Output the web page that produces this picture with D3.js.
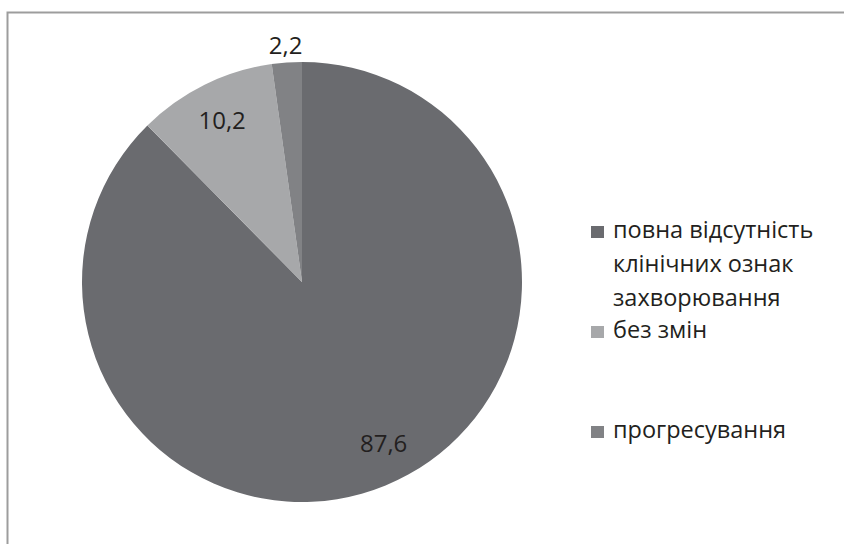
<!DOCTYPE html>
<html>
<head>
<meta charset="utf-8">
<script src="https://cdn.jsdelivr.net/npm/d3@7"></script>
<style>
  body { margin: 0; background: #fff; }
  svg text { font-family: "Open Sans", sans-serif; fill: #231f20; }
</style>
</head>
<body>
<div id="chart"></div>
<script>
// data
const categories = ["повна відсутність клінічних ознак захворювання", "без змін", "прогресування"];
const values = [87.6, 10.2, 2.2];
const valueLabels = ["87,6", "10,2", "2,2"];
const legendLines = [["повна відсутність", "клінічних ознак", "захворювання"], ["без змін"], ["прогресування"]];
const colors = ["#6a6b6f", "#a7a8aa", "#818285"];

const width = 844, height = 544;
const cx = 302, cy = 282, radius = 220;

const svg = d3.select("#chart").append("svg")
    .attr("width", width)
    .attr("height", height);

// chart area border (cut off on the right and bottom)
svg.append("rect")
    .attr("x", 7.5).attr("y", 12.5)
    .attr("width", 900).attr("height", 600)
    .attr("fill", "none")
    .attr("stroke", "#9d9d9d")
    .attr("stroke-width", 2);

const data = categories.map((c, i) => ({name: c, value: values[i], label: valueLabels[i], color: colors[i]}));

const pie = d3.pie().sort(null).value(d => d.value);
const arcs = pie(data);
const arc = d3.arc().innerRadius(0).outerRadius(radius);

const g = svg.append("g").attr("transform", `translate(${cx},${cy})`);

g.selectAll("path.slice")
    .data(arcs)
    .enter().append("path")
    .attr("class", "slice")
    .attr("d", arc)
    .attr("fill", d => d.data.color);

// label angle shift (radians) to mimic excel's best-fit placement
const labelShift = [-0.08, 0, 0];

const total = d3.sum(values);
g.selectAll("text.val")
    .data(arcs)
    .enter().append("text")
    .attr("class", "val")
    .attr("text-anchor", "middle")
    .style("font-size", "24px")
    .attr("transform", (d, i) => {
        let a = (d.startAngle + d.endAngle) / 2 + labelShift[i];
        let r = d.data.value / total < 0.05 ? radius + 18 : radius * 0.82;
        return `translate(${Math.sin(a) * r},${-Math.cos(a) * r + 9})`;
    })
    .text(d => d.data.label);

// legend
const legendY = d3.scaleOrdinal().domain(d3.range(3)).range([238, 338, 438]);
const legend = svg.append("g").attr("class", "legend");

const items = legend.selectAll("g.item")
    .data(data)
    .enter().append("g")
    .attr("class", "item")
    .attr("transform", (d, i) => `translate(591,${legendY(i)})`);

items.append("rect")
    .attr("x", 0).attr("y", -12)
    .attr("width", 13).attr("height", 12)
    .attr("fill", d => d.color);

items.append("text")
    .attr("x", 22)
    .style("font-size", "23.5px")
    .selectAll("tspan")
    .data((d, i) => legendLines[i])
    .enter().append("tspan")
    .attr("x", 22)
    .attr("y", (d, j) => j * 34)
    .text(d => d);
</script>
</body>
</html>
